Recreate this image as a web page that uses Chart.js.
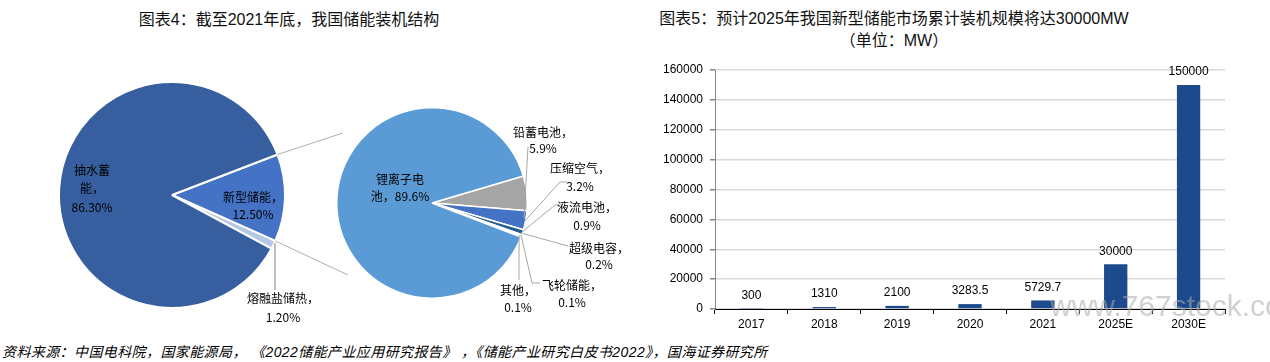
<!DOCTYPE html>
<html>
<head>
<meta charset="utf-8">
<script src="https://cdn.jsdelivr.net/npm/chart.js@4.4.1/dist/chart.umd.min.js"></script>
<style>
    body { margin: 0; background: #fff; width: 1270px; height: 362px; position: relative; overflow: hidden;
           font-family: "Liberation Sans", "Noto Sans CJK SC", sans-serif; }
    .title { position: absolute; font-size: 16px; color: #111; text-align: center; line-height: 22px; white-space: nowrap; }
    .note { position: absolute; left: 2px; top: 343px; font-size: 14px; font-style: italic; color: #000; line-height: 18px; white-space: nowrap; letter-spacing: 0.4px; }
    .mark { position: absolute; left: 1050px; top: 291px; font-size: 30px; color: rgba(170, 170, 170, 0.55); line-height: 30px; white-space: nowrap; }
    canvas { position: absolute; }
</style>
</head>
<body>
<div class="title" style="left:0;width:578px;top:9px">图表4：截至2021年底，我国储能装机结构</div>
<div class="title" style="left:640px;width:508px;top:8px">图表5：预计2025年我国新型储能市场累计装机规模将达30000MW<br>（单位：MW）</div>

<canvas id="pieAll" width="360" height="290" style="left:0;top:50px;width:360px;height:290px"></canvas>
<canvas id="pieNew" width="310" height="270" style="left:330px;top:60px;width:310px;height:270px"></canvas>
<canvas id="barChart" width="630" height="285" style="left:640px;top:55px;width:630px;height:285px"></canvas>

<div class="note">资料来源：中国电科院，国家能源局， 《2022储能产业应用研究报告》 ，《储能产业研究白皮书2022》，国海证券研究所</div>
<div class="mark">www.767stock.com</div>

<script>
// data
const storageTypes = ['新型储能', '熔融盐储热', '抽水蓄能'];
const storageShares = [12.5, 1.2, 86.3];

const newTypes = ['铅蓄电池', '压缩空气', '液流电池', '超级电容', '飞轮储能', '其他', '锂离子电池'];
const newShares = [5.9, 3.2, 0.9, 0.2, 0.1, 0.1, 89.6];

const years = ['2017', '2018', '2019', '2020', '2021', '2025E', '2030E'];
const capacity = [300, 1310, 2100, 3283.5, 5729.7, 30000, 150000];

// label placement, offsets from the pie centre
const allLabelPos = [
    { dx: 81, dy: 2, lh: 17 },
    { dx: 111, dy: 103, lh: 19 },
    { dx: -80, dy: -25, lh: 18.5, wrap: 3 }
];
const newLabelPos = [
    { dx: 111, dy: -71, lh: 16 },
    { dx: 148, dy: -35, lh: 18 },
    { dx: 155, dy: 4, lh: 18 },
    { dx: 167, dy: 45, lh: 16 },
    { dx: 140, dy: 82, lh: 17 },
    { dx: 86, dy: 87, lh: 17 },
    { dx: -32, dy: -24, lh: 17, wrap: 4, inline: true }
];
// leader lines for the small slices (offsets from centre)
const newLeaders = [
    [[96, -56], [92, 15]],
    [[135, -21], [128, -21], [92, 19]],
    [[130, 2], [123, 2], [90, 29]],
    [[136, 43], [89, 30]],
    [[108, 80], [100, 80], [89, 32]],
    [[87, 77], [87, 32]]
];

const labelFont = '12px "Noto Sans CJK SC"';

function drawPieLabel(ctx, cx, cy, pos, name, valueText) {
    let lines;
    if (pos.wrap) {
        lines = [name.slice(0, pos.wrap), name.slice(pos.wrap) + '，' + (pos.inline ? valueText : '')];
        if (!pos.inline) lines.push(valueText);
    } else {
        lines = [name + '，', valueText];
    }
    lines.forEach((t, i) => ctx.fillText(t, cx + pos.dx, cy + pos.dy + i * pos.lh));
}

function polyline(ctx, cx, cy, pts) {
    ctx.beginPath();
    pts.forEach((p, i) => {
        if (i === 0) ctx.moveTo(cx + p[0], cy + p[1]);
        else ctx.lineTo(cx + p[0], cy + p[1]);
    });
    ctx.stroke();
}

// Left pie: overall structure
new Chart(document.getElementById('pieAll'), {
    type: 'pie',
    data: {
        labels: storageTypes,
        datasets: [{
            data: storageShares,
            backgroundColor: ['#4472c4', '#b4c7e7', '#375f9f'],
            borderColor: '#ffffff',
            borderWidth: 2,
            hoverOffset: 0
        }]
    },
    options: {
        responsive: false,
        animation: false,
        rotation: 69,
        layout: { padding: { left: 58, top: 31, right: 74, bottom: 31 } },
        plugins: { legend: { display: false }, tooltip: { enabled: false } }
    },
    plugins: [{
        id: 'allLabels',
        afterDraw(chart) {
            const ctx = chart.ctx;
            const arcs = chart.getDatasetMeta(0).data;
            const cx = arcs[0].x, cy = arcs[0].y, r = arcs[0].outerRadius;
            ctx.save();
            // lines to the second pie
            ctx.strokeStyle = '#b0b0b0';
            ctx.lineWidth = 1;
            const a0 = arcs[0].startAngle, a1 = arcs[0].endAngle;
            ctx.beginPath();
            ctx.moveTo(cx + r * Math.cos(a0), cy + r * Math.sin(a0));
            ctx.lineTo(cx + 171, cy - 62);
            ctx.moveTo(cx + r * Math.cos(a1), cy + r * Math.sin(a1));
            ctx.lineTo(cx + 176, cy + 80);
            ctx.stroke();
            // leader for the thin slice
            ctx.strokeStyle = '#7f7f7f';
            polyline(ctx, cx, cy, [[103, 48], [103, 95]]);

            ctx.fillStyle = '#000';
            ctx.font = labelFont;
            ctx.textAlign = 'center';
            ctx.textBaseline = 'middle';
            storageTypes.forEach((name, i) => {
                drawPieLabel(ctx, cx, cy, allLabelPos[i], name, storageShares[i].toFixed(2) + '%');
            });
            ctx.restore();
        }
    }]
});

// Right pie: new type storage
new Chart(document.getElementById('pieNew'), {
    type: 'pie',
    data: {
        labels: newTypes,
        datasets: [{
            data: newShares,
            backgroundColor: ['#a5a5a5', '#4472c4', '#255e91', '#264478', '#636363', '#997300', '#5b9bd5'],
            borderColor: '#ffffff',
            borderWidth: 1.5,
            hoverOffset: 0
        }]
    },
    options: {
        responsive: false,
        animation: false,
        rotation: 73.5,
        layout: { padding: { left: 6, top: 47, right: 112, bottom: 31 } },
        plugins: { legend: { display: false }, tooltip: { enabled: false } }
    },
    plugins: [{
        id: 'newLabels',
        afterDraw(chart) {
            const ctx = chart.ctx;
            const arcs = chart.getDatasetMeta(0).data;
            const cx = arcs[0].x, cy = arcs[0].y;
            ctx.save();
            ctx.strokeStyle = '#a6a6a6';
            ctx.lineWidth = 1;
            newLeaders.forEach(pts => polyline(ctx, cx, cy, pts));

            ctx.fillStyle = '#000';
            ctx.font = labelFont;
            ctx.textAlign = 'center';
            ctx.textBaseline = 'middle';
            newTypes.forEach((name, i) => {
                drawPieLabel(ctx, cx, cy, newLabelPos[i], name, newShares[i].toFixed(1) + '%');
            });
            ctx.restore();
        }
    }]
});

// Bar chart: cumulative installed capacity
new Chart(document.getElementById('barChart'), {
    type: 'bar',
    data: {
        labels: years,
        datasets: [{
            data: capacity,
            backgroundColor: '#1d4a8c',
            barPercentage: 0.32,
            categoryPercentage: 1
        }]
    },
    options: {
        responsive: false,
        animation: false,
        layout: { padding: { left: 0, right: 45, top: 15, bottom: 0 } },
        plugins: { legend: { display: false }, tooltip: { enabled: false } },
        scales: {
            x: {
                grid: { offset: true, drawOnChartArea: false, tickLength: 5, color: '#000' },
                border: { color: '#000', width: 1 },
                ticks: { color: '#000', font: { family: 'Liberation Sans', size: 12 }, padding: 3 },
                afterFit: scale => { scale.height = 31; }
            },
            y: {
                min: 0,
                max: 160000,
                ticks: {
                    stepSize: 20000,
                    color: '#000',
                    font: { family: 'Liberation Sans', size: 12 },
                    padding: 7,
                    callback: value => String(value)
                },
                grid: { color: '#d9d9d9', lineWidth: 1.5, tickLength: 5, tickColor: '#868686' },
                border: { color: '#868686', width: 1 },
                afterFit: scale => { scale.width = 75; }
            }
        }
    },
    plugins: [{
        id: 'valueLabels',
        afterDatasetsDraw(chart) {
            const ctx = chart.ctx;
            ctx.save();
            ctx.fillStyle = '#000';
            ctx.font = '12px "Liberation Sans"';
            ctx.textAlign = 'center';
            ctx.textBaseline = 'middle';
            chart.getDatasetMeta(0).data.forEach((bar, i) => {
                ctx.fillText(String(capacity[i]), bar.x, bar.y - 13);
            });
            ctx.restore();
        }
    }]
});
</script>
</body>
</html>
